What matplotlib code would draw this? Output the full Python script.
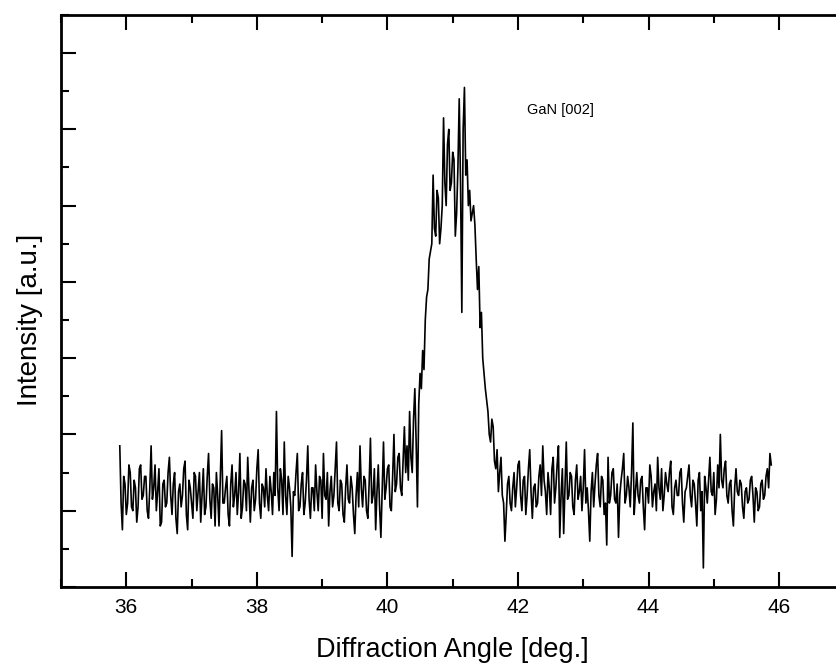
import numpy as np
import matplotlib
matplotlib.use('Agg')
import matplotlib.pyplot as plt
from matplotlib.ticker import MultipleLocator

# scan angle, 0.02 deg steps from 35.90 to 45.88
angle = np.arange(500) * 0.02 + 35.90

# intensity (arbitrary units), 20 points (0.4 deg) per row
intensity = [
    1.85, 1.10, 0.75, 1.45, 1.35, 0.95, 1.10, 1.60, 1.50, 1.05, 1.00, 1.40, 1.30, 0.85, 1.05, 1.55, 1.60, 1.15, 1.20, 1.45,
    1.45, 1.00, 0.90, 1.30, 1.85, 1.15, 1.30, 1.60, 1.00, 1.25, 1.55, 0.80, 0.85, 1.35, 1.40, 1.05, 1.10, 1.50, 1.70, 1.20,
    0.95, 1.35, 1.50, 0.90, 0.70, 1.25, 1.35, 1.05, 1.20, 1.55, 1.65, 0.95, 0.75, 1.40, 1.30, 1.10, 0.90, 1.50, 1.45, 1.00,
    1.25, 1.50, 0.85, 1.20, 1.55, 0.95, 1.05, 1.45, 1.75, 1.15, 0.90, 1.35, 1.30, 0.80, 1.50, 1.20, 0.80, 1.40, 2.05, 1.10,
    1.10, 1.30, 1.45, 0.95, 0.80, 1.35, 1.60, 1.05, 1.20, 1.50, 0.95, 1.25, 1.75, 0.90, 1.05, 1.40, 1.35, 1.00, 1.70, 1.25,
    0.85, 1.30, 1.40, 1.00, 1.15, 1.55, 1.80, 1.10, 0.90, 1.35, 1.30, 1.05, 1.55, 1.20, 1.00, 1.45, 1.25, 0.95, 1.50, 1.20,
    2.30, 1.30, 1.00, 1.55, 1.40, 0.95, 1.90, 1.20, 0.95, 1.45, 1.30, 1.05, 0.40, 1.25, 1.20, 1.50, 1.75, 1.00, 1.05, 1.35,
    1.50, 0.95, 1.10, 1.40, 1.85, 1.15, 0.90, 1.30, 1.30, 1.00, 1.60, 1.25, 1.00, 1.45, 1.40, 0.90, 1.75, 1.20, 1.15, 1.50,
    0.80, 1.25, 1.45, 1.05, 1.20, 1.55, 1.90, 1.10, 1.00, 1.40, 1.35, 0.95, 0.85, 1.30, 1.60, 1.15, 1.10, 1.45, 1.30, 0.95,
    0.70, 1.20, 1.50, 1.05, 1.85, 1.30, 1.05, 1.45, 1.40, 1.00, 0.90, 1.35, 1.95, 1.10, 1.20, 1.55, 0.75, 1.25, 1.60, 1.05,
    0.65, 1.30, 1.90, 1.15, 1.30, 1.55, 1.60, 1.05, 1.00, 1.45, 2.00, 1.25, 1.35, 1.70, 1.75, 1.30, 1.20, 1.65, 2.10, 1.50,
    1.85, 1.40, 2.30, 1.70, 1.50, 2.20, 2.60, 1.90, 1.05, 2.40, 2.80, 2.60, 3.10, 2.85, 3.50, 3.80, 3.90, 4.30, 4.40, 4.50,
    5.40, 4.70, 4.60, 5.20, 5.10, 4.50, 4.70, 5.00, 6.15, 5.30, 5.00, 5.80, 6.00, 5.20, 5.30, 5.70, 5.60, 4.60, 4.90, 5.50,
    6.40, 5.30, 3.60, 6.00, 6.55, 5.40, 5.60, 5.00, 5.20, 4.80, 4.90, 5.00, 4.75, 4.30, 3.90, 4.20, 3.40, 3.60, 3.00, 2.80,
    2.60, 2.45, 2.30, 2.00, 1.90, 2.20, 2.10, 1.65, 1.55, 1.80, 1.25, 1.50, 1.70, 1.20, 1.10, 0.60, 0.95, 1.35, 1.45, 1.10,
    1.00, 1.30, 1.50, 1.05, 1.30, 1.60, 1.65, 1.20, 1.00, 1.40, 1.45, 0.95, 1.20, 1.55, 1.80, 1.25, 0.90, 1.30, 1.35, 1.05,
    1.10, 1.45, 1.60, 1.20, 1.85, 1.40, 1.25, 0.95, 1.50, 1.30, 0.95, 1.55, 1.70, 1.10, 1.30, 1.60, 1.85, 0.65, 1.20, 1.55,
    0.70, 1.30, 1.90, 1.15, 1.20, 1.50, 1.45, 1.05, 0.95, 1.40, 1.60, 1.15, 1.25, 1.45, 1.00, 1.30, 1.80, 1.10, 1.30, 1.00,
    0.60, 1.25, 1.50, 1.05, 1.35, 1.60, 1.75, 1.20, 1.05, 1.45, 1.40, 0.95, 1.10, 0.55, 1.70, 1.10, 1.20, 1.50, 1.55, 1.15,
    1.10, 1.35, 0.65, 1.20, 1.40, 1.55, 1.75, 1.10, 1.20, 1.45, 1.30, 1.05, 1.50, 2.15, 0.95, 1.25, 1.50, 1.20, 1.10, 1.40,
    1.45, 1.05, 0.75, 1.30, 1.30, 1.10, 1.60, 1.45, 1.05, 1.25, 1.35, 1.00, 1.70, 1.30, 1.15, 1.55, 1.00, 1.20, 1.50, 1.35,
    1.25, 1.50, 1.65, 1.05, 0.95, 1.30, 1.40, 1.20, 1.20, 1.50, 1.55, 1.10, 0.85, 1.25, 1.30, 1.45, 1.60, 1.20, 1.05, 1.40,
    1.35, 1.10, 0.80, 1.40, 1.50, 1.00, 1.25, 0.25, 1.45, 1.30, 1.10, 1.40, 1.70, 1.25, 1.20, 1.50, 0.95, 1.15, 1.60, 1.30,
    2.00, 1.40, 1.30, 1.55, 1.65, 1.20, 1.10, 1.35, 1.40, 1.00, 0.80, 1.30, 1.55, 1.25, 1.20, 1.40, 1.35, 1.05, 0.90, 1.25,
    1.30, 1.10, 1.15, 1.40, 1.45, 1.20, 0.85, 1.30, 1.25, 1.00, 1.05, 1.35, 1.40, 1.15, 1.20, 1.45, 1.55, 1.30, 1.75, 1.60,
]

x_ticks = [36, 38, 40, 42, 44, 46]
peak_label = "GaN [002]"

plt.rcParams['font.family'] = ['Liberation Sans', 'DejaVu Sans']

fig = plt.figure(figsize=(8.36, 6.67), dpi=100)
# right edge of the frame runs off the page, as in the scan
ax = fig.add_axes([0.073, 0.12, 0.937, 0.8576])

ax.plot(angle, intensity, color='black', linewidth=1.2)

ax.set_xlim(35, 47)
ax.set_ylim(0, 7.5)
ax.set_xticks(x_ticks)
ax.xaxis.set_minor_locator(MultipleLocator(1))
ax.yaxis.set_major_locator(MultipleLocator(1))
ax.yaxis.set_minor_locator(MultipleLocator(0.5))
ax.set_yticklabels([])

ax.tick_params(which='both', direction='in', top=True, right=False, width=1.5)
ax.tick_params(which='major', length=11)
ax.tick_params(which='minor', length=6)
ax.tick_params(axis='x', labelsize=15, pad=8)
for s in ax.spines.values():
    s.set_linewidth(2)

ax.set_xlabel('Diffraction Angle [deg.]', fontsize=19.5, labelpad=14)
ax.set_ylabel('Intensity [a.u.]', fontsize=20)
ax.yaxis.set_label_coords(-0.023, 0.467)

ax.text(42.14, 6.25, peak_label, fontsize=10.5, ha='left', va='center')

plt.savefig('out.png', dpi=100)
